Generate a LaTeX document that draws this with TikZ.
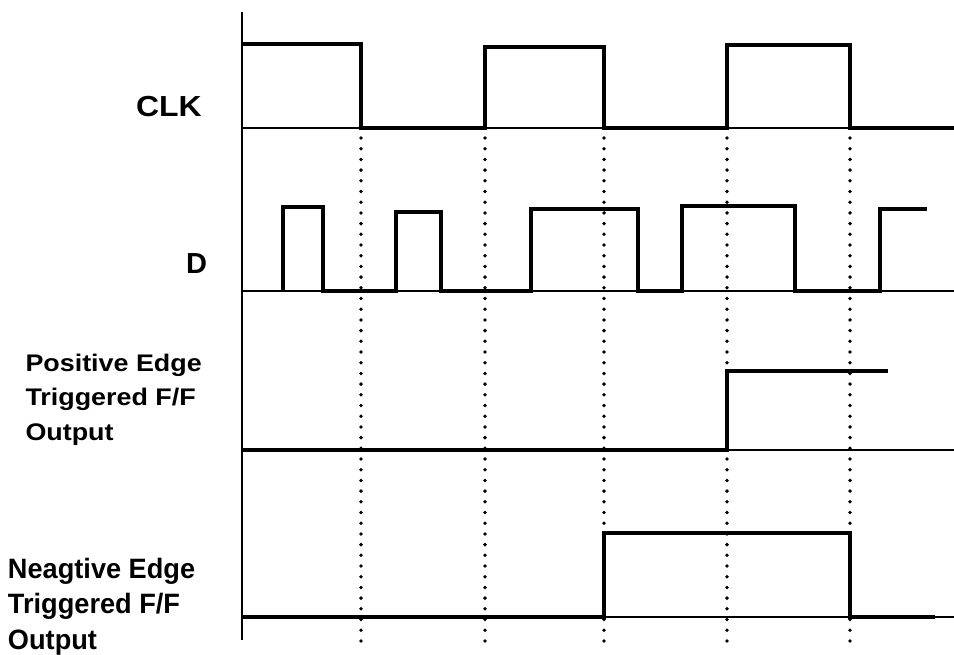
\documentclass[tikz,border=0pt]{standalone}
\usepackage{fontspec}
\setmainfont{Liberation Sans}
\usepackage{graphicx}
\begin{document}
\begin{tikzpicture}[x=1pt,y=-1pt,
  sig/.style={line width=3.6pt, line join=miter},
  baseln/.style={line width=1.6pt},
  axisln/.style={line width=2pt},
  gridln/.style={line width=3.8pt, line cap=round, dash pattern=on 0pt off 10.7pt},
  lbl/.style={inner sep=0pt, outer sep=0pt, font=\bfseries, anchor=base west}]
\useasboundingbox (0,0) rectangle (954,654);
% axis
\coordinate (axt) at (242,12);
\coordinate (axb) at (242,640);
\draw[axisln] (axt) -- (axb);
% labels
\node[lbl] (clk) at (136,116.5) {\fontsize{29}{29}\selectfont\scalebox{1.1}[1]{CLK}};
\node[lbl] (d) at (186,273) {\fontsize{29}{29}\selectfont D};
\node[lbl] (pos) at (25.5,371) {\fontsize{24}{24}\selectfont\scalebox{1.12}[1]{\vtop{\baselineskip=34.5pt\hbox{Positive Edge}\hbox{Triggered F/F}\hbox{Output}}}};
\node[lbl] (neg) at (8,578) {\fontsize{28}{28}\selectfont\scalebox{0.97}[1]{\vtop{\baselineskip=35.5pt\hbox{Neagtive Edge}\hbox{Triggered F/F}\hbox{Output}}}};
% baselines
\draw[baseln] (242,128) -- (954,128);
\draw[baseln] (242,291) -- (954,291);
\draw[baseln] (242,450) -- (954,450);
\draw[baseln] (242,617) -- (954,617);
% dotted clock edges
\foreach \x in {361,485,604,727,850}
  \draw[gridln] (\x,138) -- (\x,641);
% CLK
\draw[sig] (242,44) -- (361,44) -- (361,128) -- (485,128) -- (485,47) -- (604,47) -- (604,128)
  -- (727,128) -- (727,45) -- (850,45) -- (850,128) -- (954,128);
% D
\draw[sig] (283,291) -- (283,207) -- (323,207) -- (323,291) -- (396,291) -- (396,212) -- (441,212)
  -- (441,291) -- (531,291) -- (531,209) -- (638,209) -- (638,291) -- (682,291) -- (682,206)
  -- (795,206) -- (795,291) -- (880,291) -- (880,209) -- (927,209);
% Positive edge output
\draw[sig] (242,450) -- (727,450) -- (727,371) -- (888,371);
% Negative edge output
\draw[sig] (242,617) -- (604,617) -- (604,533) -- (850,533) -- (850,617) -- (935,617);
\end{tikzpicture}
\end{document}
